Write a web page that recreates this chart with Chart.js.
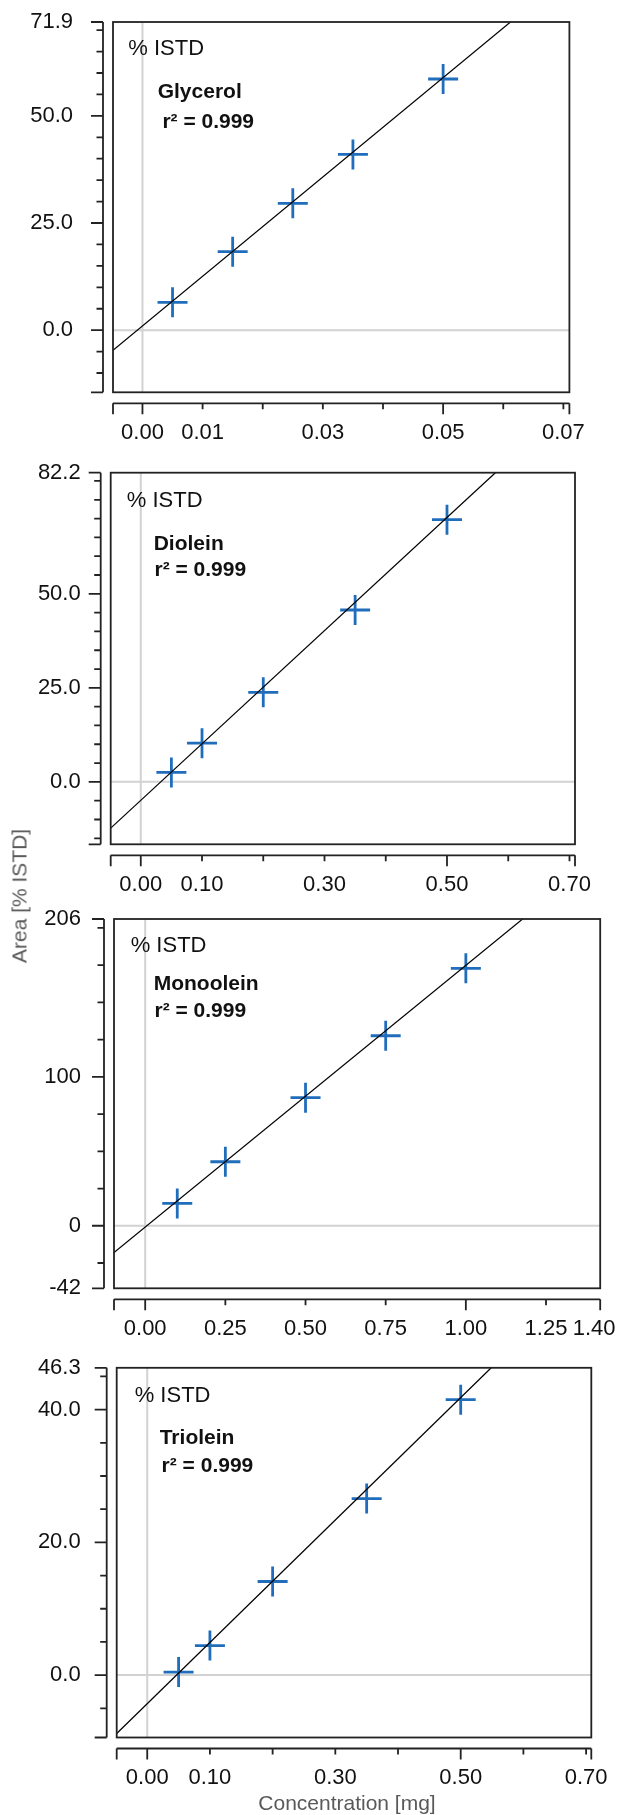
<!DOCTYPE html>
<html>
<head>
<meta charset="utf-8">
<script src="https://cdn.jsdelivr.net/npm/chart.js@4/dist/chart.umd.min.js"></script>
<style>
  body { margin: 0; background: #fff; }
  #page { position: relative; width: 618px; height: 1815px; overflow: hidden; font-family: "Liberation Sans", Arial, sans-serif; }
  canvas { position: absolute; left: 0; }
  .axis-title { position: absolute; color: #595959; font-size: 21px; line-height: 21px; white-space: nowrap; }
  #ytitle { left: 19px; top: 896px; transform: translate(-50%, -50%) rotate(-90deg); }
  #xtitle { left: 347px; top: 1802px; transform: translate(-50%, -50%); }
</style>
</head>
<body>
<div id="page">
  <canvas id="c1" width="618" height="450" style="top:0px"></canvas>
  <canvas id="c2" width="618" height="450" style="top:450px"></canvas>
  <canvas id="c3" width="618" height="450" style="top:900px"></canvas>
  <canvas id="c4" width="618" height="465" style="top:1350px"></canvas>
  <div class="axis-title" id="ytitle">Area [% ISTD]</div>
  <div class="axis-title" id="xtitle">Concentration [mg]</div>
</div>
<script>
// compounds
const names = ["Glycerol", "Diolein", "Monoolein", "Triolein"];
const r2Text = ["r\u00b2 = 0.999", "r\u00b2 = 0.999", "r\u00b2 = 0.999", "r\u00b2 = 0.999"];

// calibration points (concentration in mg, area in % ISTD)
const glycerolX = [0.005, 0.015, 0.025, 0.035, 0.05];
const glycerolY = [6.5, 18.3, 29.6, 41.0, 58.6];
const dioleinX = [0.05, 0.10, 0.20, 0.35, 0.50];
const dioleinY = [2.5, 10.3, 23.8, 45.7, 69.7];
const monooleinX = [0.10, 0.25, 0.50, 0.75, 1.00];
const monooleinY = [15.0, 43.0, 86.0, 127.6, 172.9];
const trioleinX = [0.05, 0.10, 0.20, 0.35, 0.50];
const trioleinY = [0.45, 4.45, 14.1, 26.6, 41.5];

const glycerolFitX = [-0.0049, 0.0612];
const glycerolFitY = [-4.7, 71.9];
const dioleinFitX = [-0.0491, 0.579];
const dioleinFitY = [-12.3, 82.2];
const monooleinFitX = [-0.0973, 1.177];
const monooleinFitY = [-17.9, 206];
const trioleinFitX = [-0.0487, 0.5487];
const trioleinFitY = [-8.8, 46.3];

// axis ranges
const xMin = [-0.0049, -0.0491, -0.0973, -0.0487];
const xMax = [0.0710, 0.709, 1.419, 0.7083];
const yMin = [-14.5, -16.6, -42, -9.4];
const yMax = [71.9, 82.2, 206, 46.3];

// tick labels
const glycerolXTicks = [0, 0.01, 0.03, 0.05, 0.07];
const dioleinXTicks = [0, 0.10, 0.30, 0.50, 0.70];
const monooleinXTicks = [0, 0.25, 0.50, 0.75, 1.00, 1.25, 1.40];
const trioleinXTicks = [0, 0.10, 0.30, 0.50, 0.70];
const glycerolYTicks = [0, 25, 50, 71.9];
const dioleinYTicks = [0, 25, 50, 82.2];
const monooleinYTicks = [-42, 0, 100, 206];
const trioleinYTicks = [0, 20, 40, 46.3];

// long / short tick marks
const xMajor = [[0, 0.05], [0, 0.5], [0, 1.0], [0, 0.5]];
const xStep = [0.01, 0.1, 0.25, 0.1];
const yMajor = [[0, 25, 50], [0, 25, 50], [0, 100], [0, 20, 40]];
const yStep = [5, 5, 25, 5];
const yDecimals = [1, 1, 0, 1];

const BLUE = "#1f6dbb";

Chart.defaults.font.family = '"Liberation Sans", Arial, sans-serif';
Chart.defaults.font.size = 22;
Chart.defaults.color = "#111";

// page layout of each panel (plot box in page pixels)
const layouts = [
    { id: "c1", top: 0, height: 450, left: 113, right: 569.4, plotTop: 22, bottom: 392.3, yPad: 40,
      text: [[15.3, 27], [44.7, 70], [49.4, 100]] },
    { id: "c2", top: 450, height: 450, left: 110.7, right: 575, plotTop: 472.7, bottom: 844.3, yPad: 30,
      text: [[16.1, 28], [43, 72], [43.8, 98]] },
    { id: "c3", top: 900, height: 450, left: 114, right: 604.4, plotTop: 919, bottom: 1288.3, yPad: 33,
      text: [[16.7, 27.3], [39.7, 65], [40.5, 92]] },
    { id: "c4", top: 1350, height: 465, left: 116.7, right: 591.3, plotTop: 1365.7, bottom: 1737.5, yPad: 36,
      text: [[18, 28], [43, 70], [44.9, 98]] }
];

const series = [
    [glycerolX, glycerolY, glycerolFitX, glycerolFitY, glycerolXTicks, glycerolYTicks],
    [dioleinX, dioleinY, dioleinFitX, dioleinFitY, dioleinXTicks, dioleinYTicks],
    [monooleinX, monooleinY, monooleinFitX, monooleinFitY, monooleinXTicks, monooleinYTicks],
    [trioleinX, trioleinY, trioleinFitX, trioleinFitY, trioleinXTicks, trioleinYTicks]
];

function stepValues(min, max, step) {
    const out = [];
    for (let v = Math.ceil(min / step - 1e-9) * step; v <= max + 1e-9; v += step) out.push(+v.toFixed(6));
    return out;
}

// zero lines, box, detached axes and the text block
const framePlugin = {
    id: "frame",
    beforeDatasetsDraw(chart) {
        const { ctx, chartArea: a, scales: { x, y } } = chart;
        const x0 = x.getPixelForValue(0);
        const y0 = y.getPixelForValue(0);
        ctx.save();
        ctx.strokeStyle = "#d2d2d2";
        ctx.lineWidth = 2;
        ctx.beginPath();
        ctx.moveTo(x0, a.top);
        ctx.lineTo(x0, a.bottom);
        ctx.moveTo(a.left, y0);
        ctx.lineTo(a.right, y0);
        ctx.stroke();
        ctx.restore();
    },
    afterDraw(chart, args, opts) {
        const { ctx, chartArea: a, scales: { x, y } } = chart;
        const i = opts.index;
        ctx.save();
        ctx.strokeStyle = "#222";
        ctx.lineWidth = 1.8;
        ctx.strokeRect(a.left, a.top, a.right - a.left, a.bottom - a.top);

        // y axis
        const ax = a.left - 10;
        ctx.beginPath();
        ctx.moveTo(ax, a.top);
        ctx.lineTo(ax, a.bottom);
        stepValues(yMin[i], yMax[i], yStep[i]).forEach(v => {
            const py = y.getPixelForValue(v);
            ctx.moveTo(ax, py);
            ctx.lineTo(ax - 6.5, py);
        });
        yMajor[i].concat([yMin[i], yMax[i]]).forEach(v => {
            const py = y.getPixelForValue(v);
            ctx.moveTo(ax, py);
            ctx.lineTo(ax - 12, py);
        });
        // x axis
        const ay = a.bottom + 11;
        ctx.moveTo(a.left, ay);
        ctx.lineTo(a.right, ay);
        stepValues(xMin[i], xMax[i], xStep[i]).forEach(v => {
            const px = x.getPixelForValue(v);
            ctx.moveTo(px, ay);
            ctx.lineTo(px, ay + 6);
        });
        xMajor[i].concat([xMin[i], xMax[i]]).forEach(v => {
            const px = x.getPixelForValue(v);
            ctx.moveTo(px, ay);
            ctx.lineTo(px, ay + 11);
        });
        ctx.stroke();

        // labels inside the plot
        const t = opts.text;
        ctx.fillStyle = "#111";
        ctx.textAlign = "left";
        ctx.textBaseline = "middle";
        ctx.font = '22px "Liberation Sans", Arial, sans-serif';
        ctx.fillText("% ISTD", a.left + t[0][0], a.top + t[0][1]);
        ctx.font = 'bold 21px "Liberation Sans", Arial, sans-serif';
        ctx.fillText(names[i], a.left + t[1][0], a.top + t[1][1]);
        ctx.fillText(r2Text[i], a.left + t[2][0], a.top + t[2][1]);
        ctx.restore();
    }
};

layouts.forEach((p, i) => {
    const [xs, ys, fx, fy, xt, yt] = series[i];
    const ctx = document.getElementById(p.id);
    new Chart(ctx.getContext("2d"), {
        type: "scatter",
        data: {
            datasets: [
                {
                    label: "fit",
                    data: fx.map((v, k) => ({ x: v, y: fy[k] })),
                    showLine: true,
                    borderColor: "#000",
                    borderWidth: 1.2,
                    pointRadius: 0,
                    fill: false
                },
                {
                    label: names[i],
                    data: xs.map((v, k) => ({ x: v, y: ys[k] })),
                    pointStyle: "cross",
                    pointRadius: 15,
                    pointHoverRadius: 15,
                    pointBorderWidth: 2.8,
                    pointBorderColor: BLUE,
                    pointBackgroundColor: BLUE
                }
            ]
        },
        options: {
            responsive: false,
            animation: false,
            events: [],
            layout: { padding: { top: p.plotTop - p.top, right: 618 - p.right, left: 0, bottom: 0 } },
            plugins: {
                legend: { display: false },
                tooltip: { enabled: false },
                frame: { index: i, text: p.text }
            },
            scales: {
                x: {
                    type: "linear",
                    position: "bottom",
                    min: xMin[i],
                    max: xMax[i],
                    bounds: "data",
                    grid: { display: false, drawTicks: false },
                    border: { display: false },
                    afterFit: s => {
                        s.height = p.height - (p.bottom - p.top);
                        s.paddingLeft = 0;
                        s.paddingRight = 0;
                    },
                    afterBuildTicks: s => { s.ticks = xt.map(v => ({ value: v })); },
                    ticks: {
                        autoSkip: false,
                        maxRotation: 0,
                        padding: 27,
                        callback: v => Number(v).toFixed(2)
                    }
                },
                y: {
                    type: "linear",
                    min: yMin[i],
                    max: yMax[i],
                    bounds: "data",
                    grid: { display: false, drawTicks: false },
                    border: { display: false },
                    afterFit: s => {
                        // keep the box where it is in the picture; labels may spill above it
                        s.width = p.left;
                        s.paddingTop = 0;
                        s.paddingBottom = 0;
                    },
                    afterBuildTicks: s => { s.ticks = yt.map(v => ({ value: v })); },
                    ticks: {
                        autoSkip: false,
                        padding: p.yPad,
                        callback: v => Number(v).toFixed(yDecimals[i])
                    }
                }
            }
        },
        plugins: [framePlugin]
    });
});
</script>
</body>
</html>
